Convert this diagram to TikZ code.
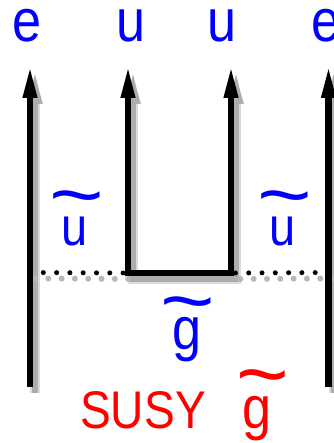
\documentclass[tikz,border=0pt]{standalone}
\usepackage{fontspec}
\usepackage{graphicx}
\setmainfont{Liberation Sans}
\usetikzlibrary{arrows.meta}
\definecolor{lblue}{RGB}{0,0,255}
\definecolor{lred}{RGB}{255,0,0}
\newcommand\narrow[1]{\scalebox{0.87}[1]{#1}}
\newcommand\tld{\scalebox{1.2}[1]{\char"7E\relax}}
\begin{document}
\begin{tikzpicture}[x=1pt,y=-1pt,
  lbl/.style={anchor=base, inner sep=0pt, text=lblue, font=\fontsize{60}{60}\selectfont},
  slbl/.style={anchor=base, inner sep=0pt, text=lblue, font=\fontsize{54}{54}\selectfont},
  tild/.style={anchor=base, inner sep=0pt, font=\fontsize{78}{78}\selectfont},
  red/.style={anchor=base, inner sep=0pt, text=lred, font=\fontsize{53}{53}\selectfont},
  line/.style={line width=6.5pt, draw=black, miter limit=10},
  shline/.style={line width=10pt, draw=black!14, miter limit=10},
  shlineb/.style={line width=6pt, draw=black!32, miter limit=10},
  arr/.style={-{Triangle[length=33pt,width=13pt]}},
  barr/.style={{Triangle[length=33pt,width=13pt]}-{Triangle[length=33pt,width=13pt]}},
  dots/.style={line width=5pt, line cap=round, dash pattern=on 0pt off 13.3pt, draw=black},
  shdots/.style={line width=6pt, line cap=round, dash pattern=on 0pt off 13.3pt, draw=black!28},
]
\useasboundingbox (0,0) rectangle (333,443);
\fill[white] (0,0) rectangle (333,443);
% coordinates
\coordinate (lt) at (30,65);
\coordinate (lb) at (30,387);
\coordinate (rt) at (328.5,65);
\coordinate (rb) at (328.5,387);
\coordinate (at) at (128,65);
\coordinate (ab) at (128,273);
\coordinate (bt) at (231,65);
\coordinate (bb) at (231,273);
\coordinate (ld) at (30,272.5);
\coordinate (rd) at (328.5,272.5);
% shadows
\begin{scope}[transform canvas={xshift=5pt,yshift=-6pt}]
  \draw[shline,arr] (lb) -- (lt);
  \draw[shline,arr] (rb) -- (rt);
  \draw[shline,barr] (at) -- (ab) -- (bb) -- (bt);
  \draw[shlineb,arr] (lb) -- (lt);
  \draw[shlineb,arr] (rb) -- (rt);
  \draw[shlineb,barr] (at) -- (ab) -- (bb) -- (bt);
  \draw[shdots] (ld) -- (ab);
  \draw[shdots] (rd) -- (bb);
\end{scope}
% lines
\draw[dots] (ld) -- (ab);
\draw[dots] (rd) -- (bb);
\draw[line,arr] (lb) -- (lt);
\draw[line,arr] (rb) -- (rt);
\draw[line,barr] (at) -- (ab) -- (bb) -- (bt);
% top labels
\node[lbl] (e1) at (27,42) {\narrow{e}};
\node[lbl] (u1) at (131,42) {\narrow{u}};
\node[lbl] (u2) at (222,42) {\narrow{u}};
\node[lbl] (e2) at (326,42) {\narrow{e}};
% squark labels
\node[slbl] (su1) at (75,245) {\narrow{u}};
\node[tild,text=lblue] (st1) at (77,221) {\tld};
\node[slbl] (su2) at (283,245) {\narrow{u}};
\node[tild,text=lblue] (st2) at (285,221) {\tld};
% gluino label
\node[lbl] (sg) at (187,349) {\narrow{g}};
\node[tild,text=lblue] (sgt) at (188,327.5) {\tld};
% SUSY
\node[red] (susy) at (143,428) {\narrow{SUSY}};
\node[lbl,text=lred] (rg) at (257.5,428) {\narrow{g}};
\node[tild,text=lred,font=\fontsize{86}{86}\selectfont] (rgt) at (263,403) {\scalebox{1.05}[1]{\char"7E\relax}};
\end{tikzpicture}
\end{document}
